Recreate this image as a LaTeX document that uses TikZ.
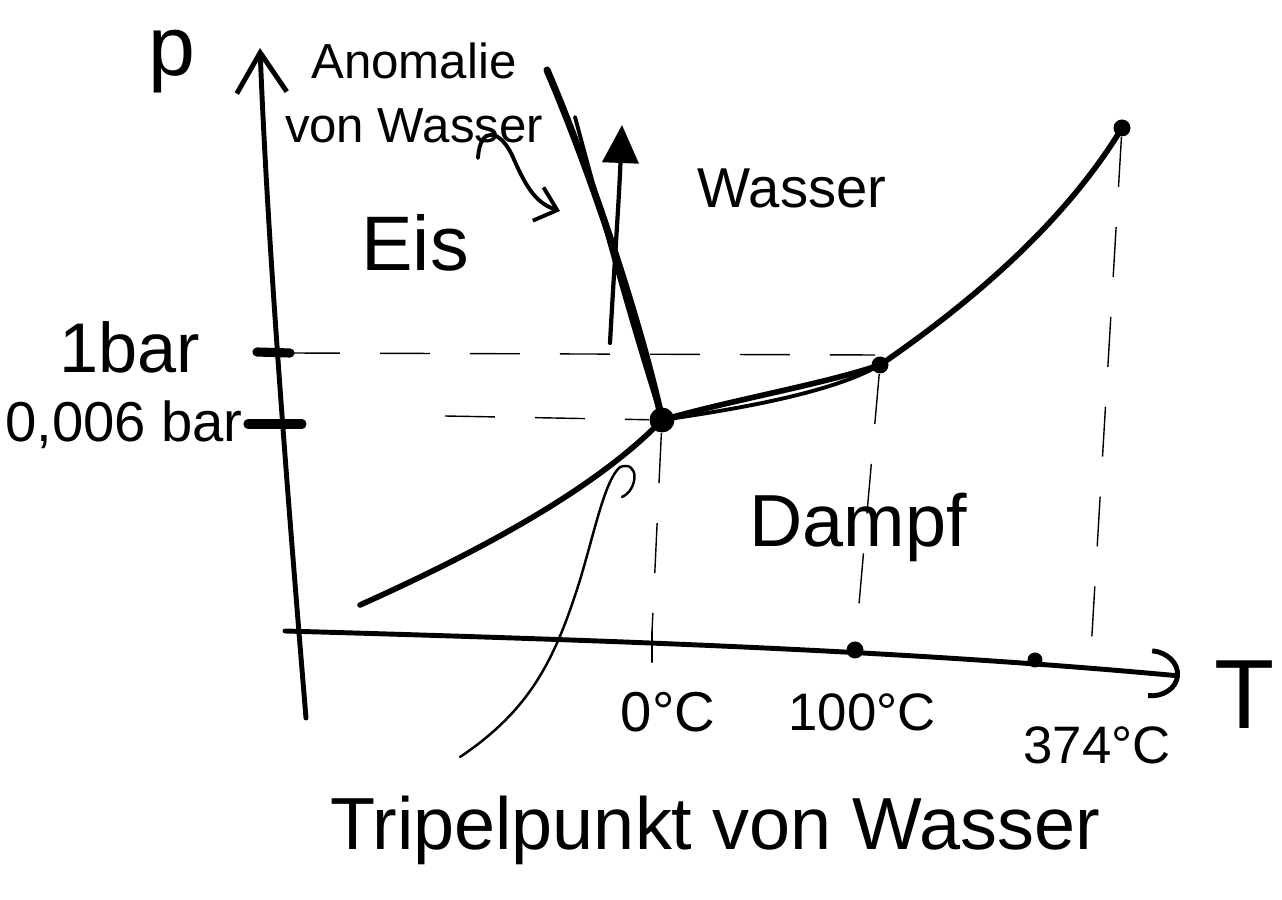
\documentclass[tikz,border=0pt]{standalone}
\usepackage{fontspec}
\setmainfont{Liberation Sans}
\usetikzlibrary{arrows.meta}

\begin{document}
\begin{tikzpicture}[
  x=0.1mm, y=-0.1mm,
  axis/.style={line width=1.4pt, line cap=round},
  curve/.style={line width=1.6pt, line cap=round, line join=round},
  guide/.style={line width=0.4pt, dash pattern=on 5mm off 4mm},
  hand/.style={line width=0.7pt, line cap=round},
  pt/.style={circle, fill, inner sep=0pt, minimum size=1.7mm},
  lbl/.style={inner sep=0pt, align=center}
]
\useasboundingbox (0,0) rectangle (1282,900);

% axes
\draw[axis, -{Straight Barb[length=4mm, width=5mm]}]
  (306,718) .. controls (288,500) and (268,250) .. (260,48);
\draw[axis, -{Arc Barb[length=3mm, width=5mm]}]
  (285,631) .. controls (600,640) and (900,650) .. (1180,676);

\draw[line width=2.6pt, line cap=round] (257,352) -- (290,353);
\draw[line width=2.6pt, line cap=round] (248,424) -- (302,424);
\draw[hand] (652,632) -- (652,662);

% points
\node[pt, minimum size=2.5mm] (tp) at (662,420) {};
\node[pt] (bp) at (880,365) {};
\node[pt] (cp) at (1122,128) {};
\node[pt] (t100) at (855,650) {};
\node[pt, minimum size=1.5mm] (t374) at (1035,660) {};

% guides
\draw[guide] (290,353) -- (875,355);
\draw[guide] (445,416) -- (tp);
\draw[guide] (tp) -- (652,632);
\draw[guide] (bp) -- (t100);
\draw[guide] (cp) -- (1090,668);

% phase boundaries
\draw[curve] (360,605) .. controls (460,560) and (590,495) .. (tp.center);
\draw[curve] (tp.center) .. controls (740,398) and (820,385) .. (bp.center);
\draw[line width=1.1pt] (tp.center) .. controls (730,410) and (830,394) .. (bp.center);
\draw[curve] (bp.center) .. controls (960,310) and (1060,230) .. (cp.center);
\draw[line width=2pt, line cap=round] (547,70) .. controls (590,170) and (640,320) .. (tp.center);
\draw[line width=1.1pt, line cap=round] (575,117) .. controls (600,210) and (630,320) .. (tp.center);

\draw[line width=1.2pt, line cap=round, -{Triangle[length=3.8mm, width=3.6mm]}]
  (610,343) .. controls (614,270) and (619,200) .. (622,125);

% labels
\node[lbl, font=\fontsize{24}{24}\selectfont] (p) at (172,62) {p};
\node[lbl, font=\fontsize{14}{18}\selectfont] (anom) at (414,93) {Anomalie\\von Wasser};
\node[lbl, font=\fontsize{22}{22}\selectfont] (eis) at (415,243) {Eis};
\node[lbl, font=\fontsize{16}{16}\selectfont] (wasser) at (792,188) {Wasser};
\node[lbl, font=\fontsize{21}{21}\selectfont] (dampf) at (858,527) {Dampf};
\node[lbl, font=\fontsize{20}{20}\selectfont] (p1) at (130,347) {1bar};
\node[lbl, font=\fontsize{16}{16}\selectfont] (p2) at (124,425) {0,006 bar};
\node[lbl, font=\fontsize{16}{16}\selectfont] (t0) at (668,712) {0°C};
\node[lbl, font=\fontsize{15}{15}\selectfont] (l100) at (862,712) {100°C};
\node[lbl, font=\fontsize{15}{15}\selectfont] (l374) at (1097,745) {374°C};
\node[lbl, font=\fontsize{28}{28}\selectfont] (tT) at (1245,695) {T};
\node[lbl, font=\fontsize{21}{21}\selectfont] (tpl) at (715,830) {Tripelpunkt von Wasser};

% pointers
\draw[hand, line width=1.1pt, -{Straight Barb[length=2mm, width=3.5mm]}]
  (478,158) .. controls (480,125) and (500,130) .. (512,155)
  .. controls (525,185) and (535,203) .. (560,211);
\draw[hand]
  (460,757) .. controls (530,710) and (555,660) .. (580,580)
  .. controls (595,530) and (605,480) .. (620,467)
  .. controls (640,460) and (638,490) .. (622,497);

\end{tikzpicture}
\end{document}
